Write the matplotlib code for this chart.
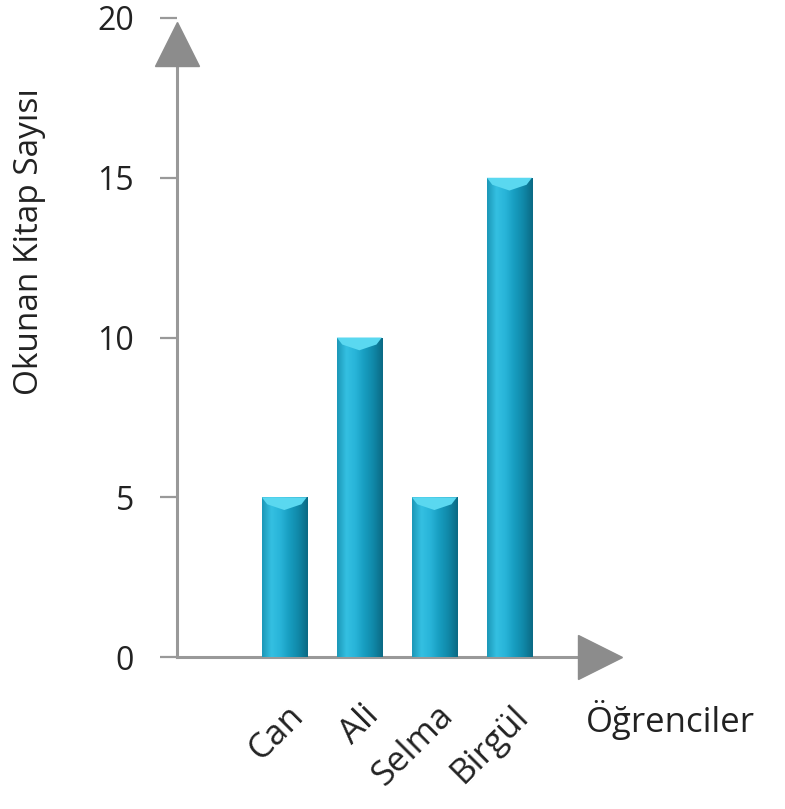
import numpy as np
import matplotlib
matplotlib.use('Agg')
import matplotlib.pyplot as plt
from matplotlib.colors import LinearSegmentedColormap
from matplotlib.patches import Polygon
from matplotlib.transforms import ScaledTranslation

# data
students = ['Can', 'Ali', 'Selma', 'Birgül']
books = [5, 10, 5, 15]
y_ticks = [0, 5, 10, 15, 20]

plt.rcParams['font.family'] = ['Open Sans', 'DejaVu Sans']

fig = plt.figure(figsize=(7.85, 8.09), dpi=100)
ax = fig.add_axes([177/785, 152/809, 448/785, 639/809])

x = np.arange(len(students))
bars = ax.bar(x, books, width=0.6, color='#1aa8cc', zorder=2)

# horizontal gradient on each bar plus a light bevel at the top
bar_cmap = LinearSegmentedColormap.from_list(
    'bar', ['#1c98b8', '#34c0e2', '#28b4d8', '#179dc0', '#1088a8', '#0b6a84'])
grad = np.linspace(0, 1, 64).reshape(1, -1)
for b in bars:
    x0, w, h = b.get_x(), b.get_width(), b.get_height()
    im = ax.imshow(grad, cmap=bar_cmap, aspect='auto', extent=[x0, x0 + w, 0, h],
                   zorder=3, interpolation='bicubic')
    im.set_clip_path(b)
    bevel = Polygon([[x0, h], [x0 + w, h], [x0 + w * 0.88, h - 0.22],
                     [x0 + w * 0.5, h - 0.4], [x0 + w * 0.12, h - 0.22]],
                    closed=True, facecolor='#5ad8f0', edgecolor='none', zorder=4)
    ax.add_patch(bevel)

ax.set_xlim(-1.43, 4.54)
ax.set_ylim(0, 20)

# axes look like arrows
axis_col = '#999999'
for s in ['top', 'right']:
    ax.spines[s].set_visible(False)
ax.spines['left'].set_color(axis_col)
ax.spines['bottom'].set_color(axis_col)
ax.spines['left'].set_linewidth(2.2)
ax.spines['bottom'].set_linewidth(2.2)
ax.spines['left'].set_bounds(0, 18.6)
ax.spines['bottom'].set_bounds(-1.43, 3.95)
ax.plot([-1.43], [19.2], marker='^', markersize=32, color='#8c8c8c',
        clip_on=False, zorder=5)
ax.plot([4.21], [0], marker='>', markersize=32, color='#8c8c8c',
        clip_on=False, zorder=5)

ax.set_yticks(y_ticks)
ax.set_yticklabels([str(v) for v in y_ticks], fontsize=23, color='#222222')
ax.tick_params(axis='y', length=12, width=1.6, color=axis_col, pad=19)

ax.set_xticks(x)
ax.set_xticklabels(students, fontsize=25, color='#222222', rotation=45,
                   ha='right', va='top', rotation_mode='anchor')
ax.tick_params(axis='x', length=0, pad=30)
for lab in ax.get_xticklabels():
    lab.set_transform(lab.get_transform() + ScaledTranslation(0.02, 0, fig.dpi_scale_trans))

fig.text(30/785, 1 - 242/809, 'Okunan Kitap Sayısı', rotation=90, fontsize=24,
         ha='center', va='center', color='#222222')
fig.text(586/785, 1 - 720/809, 'Öğrenciler', fontsize=25, ha='left', va='center',
         color='#222222')

fig.savefig('out.png', dpi=100)
